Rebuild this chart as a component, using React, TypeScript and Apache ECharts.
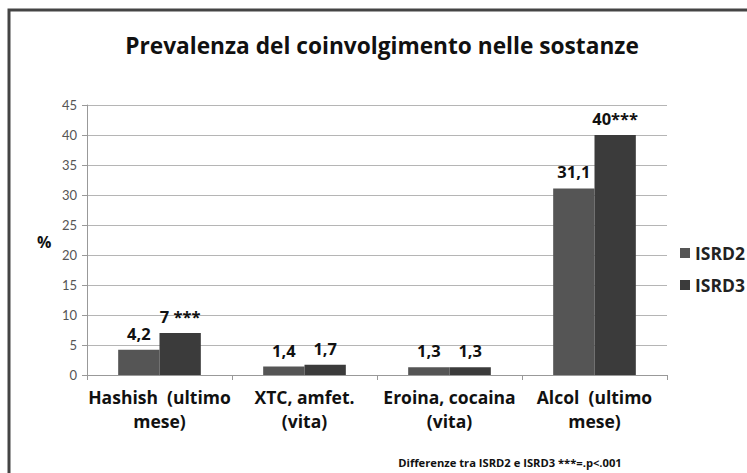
import React, { useEffect, useRef } from "react";
import * as echarts from "echarts";

const categories = ["Hashish  (ultimo\nmese)", "XTC, amfet.\n(vita)", "Eroina, cocaina\n(vita)", "Alcol  (ultimo\nmese)"];
const isrd2 = [4.2, 1.4, 1.3, 31.1];
const isrd3 = [7, 1.7, 1.3, 40];
const isrd3Marks = [" ***", "", "", "***"];
const seriesNames = ["ISRD2", "ISRD3"];
const yTicks = { min: 0, max: 45, interval: 5 };

const FONT = "'Open Sans', Lato, sans-serif";
const TFONT = "Lato, sans-serif";

const fmt = (v: number) => String(v).replace(".", ",");

export default function App() {
  const ref = useRef<HTMLDivElement>(null);
  useEffect(() => {
    if (!ref.current) return;
    const chart = echarts.init(ref.current, null, { renderer: "svg" });
    const labelStyle = {
      show: true,
      position: "top" as const,
      distance: 8,
      fontFamily: FONT,
      fontWeight: "bold" as const,
      fontSize: 16.5,
      color: "#111",
    };
    chart.setOption({
      animation: false,
      backgroundColor: "#fff",
      title: {
        text: "Prevalenza del coinvolgimento nelle sostanze",
        left: 377,
        textAlign: "center",
        top: 29,
        textStyle: { fontFamily: FONT, fontWeight: "bold", fontSize: 22.7, color: "#111" },
      },
      grid: { left: 87, right: 80, top: 105, bottom: 98, containLabel: false },
      legend: {
        orient: "vertical",
        left: 675,
        top: 239,
        itemWidth: 10,
        itemHeight: 10,
        itemGap: 14,
        icon: "rect",
        data: seriesNames,
        textStyle: { fontFamily: FONT, fontWeight: "bold", fontSize: 17.5, color: "#222" },
      },
      xAxis: {
        type: "category",
        data: categories,
        axisLine: { lineStyle: { color: "#999", width: 1 } },
        axisTick: { show: true, length: 5, lineStyle: { color: "#999" } },
        axisLabel: {
          interval: 0,
          margin: 10,
          fontFamily: FONT,
          fontWeight: "bold",
          fontSize: 17.5,
          lineHeight: 24,
          color: "#111",
        },
      },
      yAxis: {
        type: "value",
        min: yTicks.min,
        max: yTicks.max,
        interval: yTicks.interval,
        axisLine: { show: true, lineStyle: { color: "#999" } },
        axisTick: { show: true, length: 5, lineStyle: { color: "#999" } },
        axisLabel: { margin: 10, fontFamily: TFONT, fontSize: 13, color: "#555" },
        splitLine: { lineStyle: { color: "#b5b5b5", width: 1 } },
      },
      series: [
        {
          name: seriesNames[0],
          type: "bar",
          data: isrd2,
          barGap: "0%",
          barCategoryGap: "43%",
          itemStyle: { color: "#555555" },
          label: { ...labelStyle, formatter: (p: any) => fmt(p.value) },
        },
        {
          name: seriesNames[1],
          type: "bar",
          data: isrd3,
          barGap: "0%",
          barCategoryGap: "43%",
          itemStyle: { color: "#3b3b3b" },
          label: { ...labelStyle, formatter: (p: any) => fmt(p.value) + isrd3Marks[p.dataIndex] },
        },
      ],
      graphic: [
        {
          type: "rect",
          shape: { x: 9, y: 10, width: 760, height: 480 },
          style: { fill: "none", stroke: "#444", lineWidth: 3 },
          silent: true,
        },
        {
          type: "text",
          x: 37,
          y: 242,
          style: { text: "%", fontFamily: FONT, fontWeight: "bold", fontSize: 16, fill: "#111", verticalAlign: "middle" },
        },
        {
          type: "text",
          x: 510,
          y: 462,
          style: {
            text: "Differenze tra ISRD2 e ISRD3 ***=.p<.001",
            fontFamily: FONT,
            fontWeight: "bold",
            fontSize: 11.2,
            fill: "#111",
            align: "center",
            verticalAlign: "middle",
          },
        },
      ],
    });
    return () => chart.dispose();
  }, []);
  return <div ref={ref} style={{ position: "fixed", left: 0, top: 0, width: 747, height: 473 }} />;
}
